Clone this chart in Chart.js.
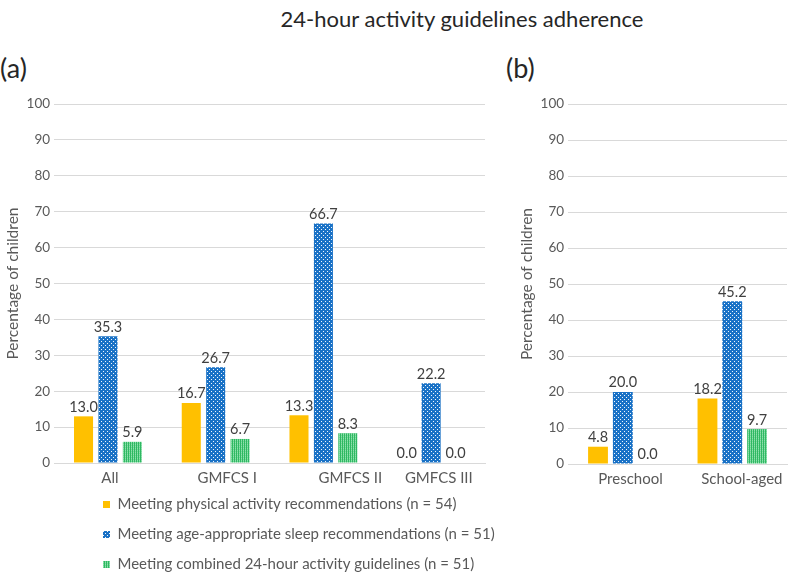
<!DOCTYPE html>
<html>
<head>
<meta charset="utf-8">
<script src="https://cdn.jsdelivr.net/npm/chart.js@4.4.1/dist/chart.umd.min.js"></script>
<style>
  body { margin: 0; width: 789px; height: 575px; background: #fff; position: relative; overflow: hidden; font-family: Lato, sans-serif; }
  #mainTitle { position: absolute; left: 212px; width: 500px; top: 5px; text-align: center; font-size: 22px; color: #262626; }
  .panel { position: absolute; top: 51px; font-size: 27px; color: #262626; }
  #chartA { position: absolute; left: 0; top: 92px; }
  #chartB { position: absolute; left: 505px; top: 92px; }
</style>
</head>
<body>
<div id="mainTitle">24-hour activity guidelines adherence</div>
<div class="panel" style="left:0">(a)</div>
<div class="panel" style="left:506px">(b)</div>
<canvas id="chartA" width="530" height="501"></canvas>
<canvas id="chartB" width="284" height="406"></canvas>
<script>
const seriesNames = [
    'Meeting physical activity recommendations (n = 54)',
    'Meeting age-appropriate sleep recommendations (n = 51)',
    'Meeting combined 24-hour activity guidelines (n = 51)'
];

const groupLabels = ['All', 'GMFCS I', 'GMFCS II', 'GMFCS III'];
const activityByGroup = [13.0, 16.7, 13.3, 0.0];
const sleepByGroup = [35.3, 26.7, 66.7, 22.2];
const combinedByGroup = [5.9, 6.7, 8.3, 0.0];

const ageLabels = ['Preschool', 'School-aged'];
const activityByAge = [4.8, 18.2];
const sleepByAge = [20.0, 45.2];
const combinedByAge = [0.0, 9.7];

const yMax = 100;
const yStep = 10;

// the category labels in the original sit a little right of their bars
const groupLabelShift = [1, 12, 27, 8];
const ageLabelShift = [8, 9];

const FONT = 'Lato';
const grey = '#595959';
const gridGrey = '#D9D9D9';

function makePattern(w, h, base, dots) {
    const c = document.createElement('canvas');
    c.width = w;
    c.height = h;
    const g = c.getContext('2d');
    g.fillStyle = base;
    g.fillRect(0, 0, w, h);
    dots.forEach(([x, y, col]) => {
        g.fillStyle = col;
        g.fillRect(x, y, 1, 1);
    });
    return g.createPattern(c, 'repeat');
}

const measure = document.createElement('canvas').getContext('2d');

function shifted(label, shift, size) {
    measure.font = size + 'px ' + FONT;
    const spaceW = measure.measureText(' ').width || 3;
    const n = Math.max(0, Math.round((2 * shift) / spaceW));
    return ' '.repeat(n) + label;
}

function buildDatasets(a, b, c) {
    const yellow = '#FFC000';
    const blue = makePattern(4, 4, '#1A72C6', [[1, 1, '#F2F7FC'], [3, 3, '#F2F7FC']]);
    const green = makePattern(2, 2, '#2EB862', [[1, 0, '#8FE0AC'], [1, 1, '#73D697']]);
    return [
        { label: seriesNames[0], data: a, backgroundColor: yellow },
        { label: seriesNames[1], data: b, backgroundColor: blue },
        { label: seriesNames[2], data: c, backgroundColor: green }
    ];
}

const valueLabels = {
    id: 'valueLabels',
    afterDatasetsDraw(chart) {
        const ctx = chart.ctx;
        ctx.save();
        ctx.font = '14.5px ' + FONT;
        ctx.fillStyle = '#404040';
        ctx.textAlign = 'center';
        ctx.textBaseline = 'bottom';
        chart.data.datasets.forEach((ds, i) => {
            chart.getDatasetMeta(i).data.forEach((bar, j) => {
                ctx.fillText(ds.data[j].toFixed(1), bar.x, bar.y - 2);
            });
        });
        ctx.restore();
    }
};

// put the legend block where the original has it
const legendSpot = {
    id: 'legendSpot',
    afterLayout(chart) {
        const lg = chart.legend;
        if (lg && chart.options.plugins.legend.display) {
            lg.left = 88;
            lg.right = chart.width;
            lg.top -= 11;
            lg.bottom -= 11;
        }
    }
};

function chartOptions(shiftList, showLegend, pad) {
    return {
        responsive: false,
        animation: false,
        layout: { padding: pad },
        plugins: {
            tooltip: { enabled: false },
            legend: {
                display: showLegend,
                position: 'bottom',
                align: 'start',
                labels: {
                    boxWidth: 7,
                    boxHeight: 7,
                    padding: 15,
                    color: grey,
                    font: { family: FONT, size: 15 }
                }
            }
        },
        scales: {
            x: {
                grid: { display: false, drawTicks: false },
                border: { color: gridGrey },
                ticks: {
                    color: grey,
                    padding: 6,
                    maxRotation: 0,
                    minRotation: 0,
                    autoSkip: false,
                    font: { family: FONT, size: 15 },
                    callback: function (value, index) {
                        return shifted(this.getLabelForValue(value), shiftList[index] || 0, 15);
                    }
                }
            },
            y: {
                min: 0,
                max: yMax,
                border: { display: false },
                grid: { color: gridGrey, drawTicks: false },
                ticks: {
                    stepSize: yStep,
                    color: grey,
                    padding: 4,
                    font: { family: FONT, size: 13.5 }
                },
                title: {
                    display: true,
                    text: 'Percentage of children',
                    color: grey,
                    padding: { top: 4, bottom: 0 },
                    font: { family: FONT, size: 15.5 }
                }
            }
        }
    };
}

new Chart(document.getElementById('chartA'), {
    type: 'bar',
    data: {
        labels: groupLabels,
        datasets: buildDatasets(activityByGroup, sleepByGroup, combinedByGroup).map(d => ({
            ...d, categoryPercentage: 0.68, barPercentage: 0.78
        }))
    },
    options: chartOptions(groupLabelShift, true, { top: 10, right: 45, left: 0, bottom: 0 }),
    plugins: [valueLabels, legendSpot]
});

new Chart(document.getElementById('chartB'), {
    type: 'bar',
    data: {
        labels: ageLabels,
        datasets: buildDatasets(activityByAge, sleepByAge, combinedByAge).map(d => ({
            ...d, categoryPercentage: 0.68, barPercentage: 0.8
        }))
    },
    options: chartOptions(ageLabelShift, false, { top: 10, right: 2, left: 9, bottom: 4 }),
    plugins: [valueLabels]
});
</script>
</body>
</html>
